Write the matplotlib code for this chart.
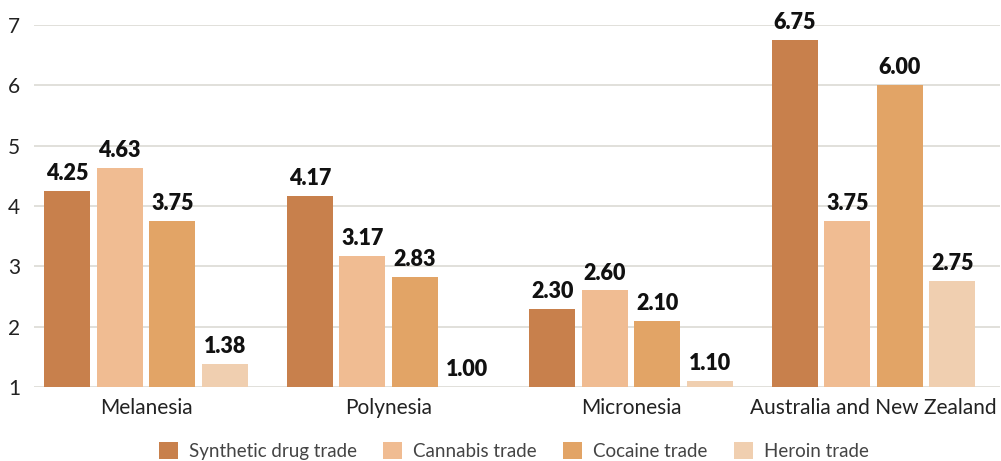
import matplotlib
matplotlib.use("Agg")
import matplotlib.pyplot as plt
import numpy as np

regions = ["Melanesia", "Polynesia", "Micronesia", "Australia and New Zealand"]
series_names = ["Synthetic drug trade", "Cannabis trade", "Cocaine trade", "Heroin trade"]
synthetic = [4.25, 4.17, 2.30, 6.75]
cannabis = [4.63, 3.17, 2.60, 3.75]
cocaine = [3.75, 2.83, 2.10, 6.00]
heroin = [1.38, 1.00, 1.10, 2.75]
colors = ["#C8804C", "#F0BC92", "#E2A466", "#F0CFB0"]
y_ticks = [1, 2, 3, 4, 5, 6, 7]

plt.rcParams["font.family"] = ["Lato", "DejaVu Sans"]

W, H = 1001, 461
fig = plt.figure(figsize=(W / 100, H / 100), dpi=100)
left_px, right_px, bottom_px, top_px = 34, 1000, 387, 25
ax = fig.add_axes([left_px / W, (H - bottom_px) / H,
                   (right_px - left_px) / W, (bottom_px - top_px) / H])

group_px = 242.5
first_center_px = 146
x0 = (left_px - first_center_px) / group_px
x1 = x0 + (right_px - left_px) / group_px
ax.set_xlim(x0, x1)
ax.set_ylim(1, 7)

x = np.arange(len(regions))
bar_w = 46 / group_px
step = 52.5 / group_px
base = 1.0
for i, (vals, col, name) in enumerate(zip([synthetic, cannabis, cocaine, heroin], colors, series_names)):
    pos = x + (i - 1.5) * step
    heights = [v - base for v in vals]
    ax.bar(pos, heights, bottom=base, width=bar_w, color=col, label=name, zorder=3)
    for p, v in zip(pos, vals):
        ax.annotate(f"{v:.2f}", (p, v), xytext=(0, 5), textcoords="offset points",
                    ha="center", va="bottom", fontsize=15.5, fontweight="heavy",
                    color="#111111", annotation_clip=False, zorder=4)

ax.set_yticks(y_ticks)
ax.set_yticklabels([str(t) for t in y_ticks])
ax.grid(axis="y", color="#DCDAD4", linewidth=1.2, zorder=0)
ax.set_xticks(x)
ax.set_xticklabels(regions)
for s in ax.spines.values():
    s.set_visible(False)
ax.tick_params(axis="both", length=0, labelsize=15, colors="#222222")
ax.tick_params(axis="x", pad=8)
ax.tick_params(axis="y", pad=10)

leg = fig.legend(loc="center", bbox_to_anchor=(514 / W, (H - 451) / H), ncol=4,
                 frameon=False, fontsize=13.5, handlelength=1.0, handleheight=1.0,
                 handletextpad=0.6, columnspacing=1.4)
for t in leg.get_texts():
    t.set_color("#444444")

fig.savefig("out.png", dpi=100)
